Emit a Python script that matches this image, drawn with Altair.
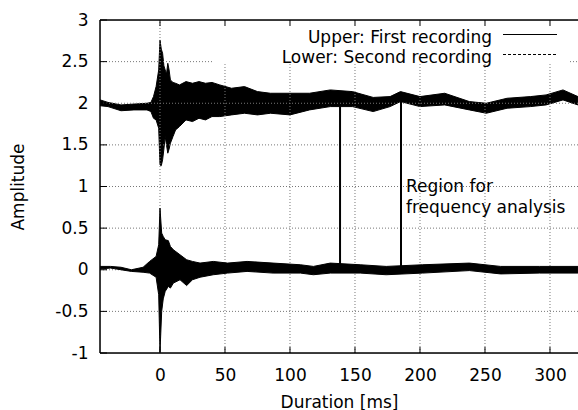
import altair as alt
import pandas as pd

# ---------------- data ----------------
upper_x  = [-46, -40, -30, -20, -10, -7, -5, -3, -1, 0, 1, 2, 3, 4, 5, 6, 7, 8, 10, 12, 15,
            20, 25, 30, 35, 40, 46, 55, 65, 75, 85, 100, 115, 131, 148, 164, 177, 185, 200,
            219, 238, 251, 267, 285, 297, 310, 321.5]
upper_lo = [1.97, 1.96, 1.91, 1.92, 1.92, 1.90, 1.82, 1.80, 1.70, 1.26, 1.25, 1.32, 1.45, 1.60,
            1.50, 1.40, 1.45, 1.52, 1.60, 1.68, 1.72, 1.80, 1.78, 1.82, 1.80, 1.84, 1.84, 1.86,
            1.88, 1.86, 1.88, 1.86, 1.92, 1.96, 1.96, 1.90, 1.96, 2.02, 1.96, 1.98, 1.92, 1.88,
            1.94, 1.96, 1.98, 2.04, 1.98]
upper_hi = [2.04, 2.01, 1.98, 1.99, 2.00, 2.01, 2.08, 2.20, 2.40, 2.76, 2.65, 2.60, 2.45, 2.40,
            2.35, 2.48, 2.40, 2.28, 2.25, 2.24, 2.22, 2.26, 2.24, 2.26, 2.24, 2.25, 2.22, 2.18,
            2.20, 2.14, 2.12, 2.12, 2.12, 2.16, 2.14, 2.07, 2.08, 2.14, 2.08, 2.12, 2.02, 2.00,
            2.06, 2.08, 2.10, 2.16, 2.08]

lower_x  = [-46, -38, -30, -22, -13, -8, -3, -1, 0, 1.3, 2.5, 4, 6.4, 8, 10.3, 15.4, 20.5, 25,
            30.8, 41, 52, 67, 87, 108, 118, 131, 154, 174, 202, 238, 262, 292, 321.5]
lower_lo = [0.01, 0.02, 0.00, -0.02, -0.03, -0.04, -0.09, -0.30, -0.99, -0.50, -0.35, -0.26,
            -0.20, -0.22, -0.16, -0.12, -0.19, -0.12, -0.09, -0.06, -0.04, -0.02, -0.04, -0.04,
            -0.06, -0.04, -0.04, -0.06, -0.04, -0.01, -0.05, -0.04, -0.04]
lower_hi = [0.04, 0.04, 0.03, 0.00, 0.03, 0.10, 0.16, 0.30, 0.74, 0.44, 0.40, 0.36, 0.35, 0.28,
            0.24, 0.18, 0.12, 0.10, 0.08, 0.10, 0.08, 0.10, 0.08, 0.06, 0.04, 0.08, 0.06, 0.04,
            0.06, 0.08, 0.04, 0.04, 0.04]

region_x = [138.5, 185.4]
region_lo = [0.0, 0.0]
region_hi = [1.96, 2.04]

x_ticks = [0, 50, 100, 150, 200, 250, 300]
y_ticks = [-1, -0.5, 0, 0.5, 1, 1.5, 2, 2.5, 3]
y_grid = [-0.5, 0, 0.5, 1, 1.5, 2, 2.5]

key_labels = ["Upper: First recording", "Lower: Second recording"]
region_label = "Region for\nfrequency analysis"
x_title = "Duration [ms]"
y_title = "Amplitude"

# ---------------- layout ----------------
X_MIN, X_MAX = -46.15, 321.55
Y_MIN, Y_MAX = -1, 3
W, H = 478, 333
FONT = "DejaVu Sans"
FS = 17
KEY_X0, KEY_X1, KEY_Y0 = 41.5, 315.4, 2.47   # area kept free of grid by the key
GRID = "#777777"

xs = alt.Scale(domain=[X_MIN, X_MAX], nice=False, zero=False)
ys = alt.Scale(domain=[Y_MIN, Y_MAX], nice=False, zero=False)

up = pd.DataFrame({"t": upper_x, "lo": upper_lo, "hi": upper_hi})
lo = pd.DataFrame({"t": lower_x, "lo": lower_lo, "hi": lower_hi})

XA = alt.Axis(values=x_ticks, grid=False, ticks=False, tickSize=0, domain=False,
              labelPadding=14, labelFont=FONT, labelFontSize=FS, labelColor="black",
              labelExpr="'' + datum.value", labelFlush=False,
              title=x_title, titleFont=FONT, titleFontSize=FS, titleFontWeight="normal",
              titleColor="black", titleY=49, titleBaseline="middle")
YA = alt.Axis(values=y_ticks, grid=False, ticks=False, tickSize=0, domain=False,
              labelPadding=12, labelFont=FONT, labelFontSize=FS, labelColor="black",
              labelExpr="'' + datum.value", labelFlush=False,
              title=y_title, titleFont=FONT, titleFontSize=FS, titleFontWeight="normal",
              titleColor="black", titleX=-82, titleY=H / 2, titleAngle=270,
              titleAlign="center", titleBaseline="middle")


def X(f):
    return alt.X(f, scale=xs, axis=XA, title=x_title)


def Y(f):
    return alt.Y(f, scale=ys, axis=YA, title=y_title)


# grid lines
xg = alt.Chart(pd.DataFrame({"t": x_ticks})).transform_calculate(
    a=f"{Y_MIN}", b=f"datum.t < {KEY_X0} ? {Y_MAX} : {KEY_Y0}"
).mark_rule(color=GRID, strokeDash=[1, 2], strokeWidth=1).encode(
    x=X("t:Q"), y=Y("a:Q"), y2="b:Q")

seg_y, seg_a, seg_b = [], [], []
for g in y_grid:
    if g >= KEY_Y0:
        seg_y += [g, g]; seg_a += [X_MIN, KEY_X1]; seg_b += [KEY_X0, X_MAX]
    else:
        seg_y += [g]; seg_a += [X_MIN]; seg_b += [X_MAX]
yg = alt.Chart(pd.DataFrame({"g": seg_y, "a": seg_a, "b": seg_b})).mark_rule(
    color=GRID, strokeDash=[1, 2], strokeWidth=1).encode(
    y=Y("g:Q"), x=X("a:Q"), x2="b:Q")

# inward ticks
xt_df = pd.DataFrame({"t": x_ticks})
xt_bot = alt.Chart(xt_df).mark_rule(color="black").encode(
    x=X("t:Q"), y=alt.value(H), y2=alt.value(H - 6))
xt_top = alt.Chart(xt_df).mark_rule(color="black").encode(
    x=X("t:Q"), y=alt.value(0), y2=alt.value(6))
yt = alt.Chart(pd.DataFrame({"v": y_ticks})).mark_rule(color="black").encode(
    y=Y("v:Q"), x=alt.value(0), x2=alt.value(7))

# signals
upper = alt.Chart(up).mark_area(color="black", stroke="black", strokeWidth=1,
                                clip=True, interpolate="linear").encode(
    x=X("t:Q"), y=Y("lo:Q"), y2="hi:Q")
lower = alt.Chart(lo).mark_area(color="black", stroke="black", strokeWidth=1,
                                clip=True, interpolate="linear").encode(
    x=X("t:Q"), y=Y("lo:Q"), y2="hi:Q")

region = alt.Chart(pd.DataFrame({"t": region_x, "a": region_lo, "b": region_hi})).mark_rule(
    color="black", strokeWidth=2).encode(x=X("t:Q"), y=Y("a:Q"), y2="b:Q")

region_text = alt.Chart(pd.DataFrame({"t": [189.2], "v": [0.934], "s": [region_label]})).mark_text(
    align="left", baseline="alphabetic", font=FONT, fontSize=FS, lineBreak="\n",
    lineHeight=21, color="black").encode(x=X("t:Q"), y=Y("v:Q"), text="s:N")

# key
key1 = alt.Chart(pd.DataFrame({"s": [key_labels[0]]})).mark_text(
    align="right", baseline="alphabetic", font=FONT, fontSize=FS, color="black").encode(
    x=alt.value(392), y=alt.value(22.5), text="s:N")
key2 = alt.Chart(pd.DataFrame({"s": [key_labels[1]]})).mark_text(
    align="right", baseline="alphabetic", font=FONT, fontSize=FS, color="black").encode(
    x=alt.value(392), y=alt.value(42.5), text="s:N")
ks1 = alt.Chart(pd.DataFrame({"s": [0]})).mark_rule(color="black", strokeWidth=1).encode(
    x=alt.value(403), x2=alt.value(457), y=alt.value(14.5))
ks2 = alt.Chart(pd.DataFrame({"s": [0]})).mark_rule(color="black", strokeWidth=1,
                                                    strokeDash=[3, 2]).encode(
    x=alt.value(403), x2=alt.value(457), y=alt.value(34.5))

# border (left, top, bottom)
b_df = pd.DataFrame({"s": [0]})
b_left = alt.Chart(b_df).mark_rule(color="black", strokeWidth=1.5).encode(
    x=alt.value(0), y=alt.value(0), y2=alt.value(H))
b_top = alt.Chart(b_df).mark_rule(color="black", strokeWidth=1.5).encode(
    x=alt.value(0), x2=alt.value(W + 5), y=alt.value(0))
b_bot = alt.Chart(b_df).mark_rule(color="black", strokeWidth=1.5).encode(
    x=alt.value(0), x2=alt.value(W + 5), y=alt.value(H))

chart = alt.layer(
    upper, xg, yg, lower, region, region_text, xt_bot, xt_top, yt,
    key1, key2, ks1, ks2, b_left, b_top, b_bot
).properties(
    width=W, height=H,
    autosize=alt.AutoSizeParams(type="none"),
    padding={"left": 100, "top": 20, "right": 0, "bottom": 57},
).configure_view(stroke=None).configure(background="white")

chart.save("out.html", embed_options={"renderer": "svg", "actions": False})
